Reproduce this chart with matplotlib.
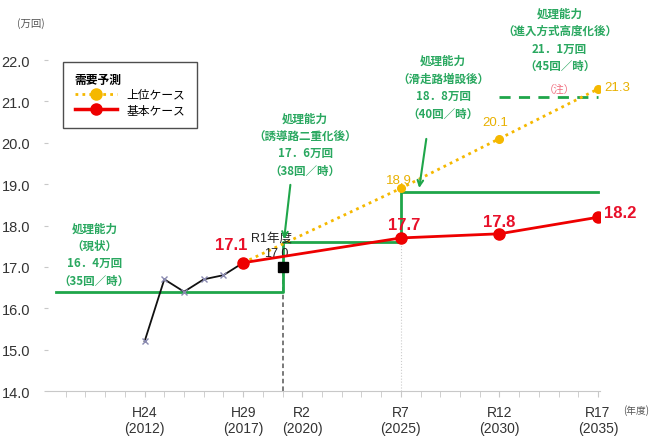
import matplotlib
matplotlib.use("Agg")
import matplotlib.pyplot as plt
from matplotlib.lines import Line2D

plt.rcParams['font.family'] = ['Liberation Sans', 'Noto Sans CJK JP']

# actual results (black)
actual_years = [2012, 2013, 2014, 2015, 2016, 2017]
actual_vals = [15.2, 16.7, 16.4, 16.7, 16.8, 17.1]

# forecasts
base_years = [2017, 2025, 2030, 2035]
base_vals = [17.1, 17.7, 17.8, 18.2]
upper_years = [2017, 2025, 2030, 2035]
upper_vals = [17.1, 18.9, 20.1, 21.3]

# R1 result
r1_year = 2019
r1_val = 17.0

# capacity steps
cap_x = [2007.5, 2019, 2019, 2025, 2025, 2035]
cap_y = [16.4, 16.4, 17.6, 17.6, 18.8, 18.8]
cap_future_x = [2030, 2035]
cap_future_y = [21.1, 21.1]

tick_years = [2012, 2017, 2020, 2025, 2030, 2035]
tick_labels = ["H24\n(2012)", "H29\n(2017)", "R2\n(2020)", "R7\n(2025)", "R12\n(2030)", "R17\n(2035)"]

GREEN = "#1fa64a"
TGREEN = "#2aa860"
ORANGE = "#f5b800"
TORANGE = "#e8b000"
RED = "#ee0000"
TRED = "#e8102a"

fig = plt.figure(figsize=(6.54, 4.39), dpi=100)
ax = fig.add_axes([0.0734, 0.107, 0.844, 0.754])
ax.set_xlim(2007.1, 2035.1)
ax.set_ylim(14.0, 22.0)

# guide lines
ax.plot([r1_year, r1_year], [14.0, r1_val], color="#555555", ls=(0, (3, 2)), lw=1.1, zorder=1)
ax.plot([2025, 2025], [14.0, 17.7], color="#cccccc", ls=":", lw=0.8, zorder=1)

# capacity
ax.plot(cap_x, cap_y, color=GREEN, lw=2, zorder=2)
ax.plot(cap_future_x, cap_future_y, color=GREEN, lw=2, ls=(0, (4, 3)), zorder=2)

# series
ax.plot(actual_years, actual_vals, color="#111111", lw=1.3, marker="x", ms=4,
        mec="#8a8ab0", mew=1, zorder=4)
ax.plot(upper_years, upper_vals, color=ORANGE, lw=2, ls=(0, (1, 1.5)), zorder=3)
ax.plot(upper_years[1:], upper_vals[1:], ls="none", marker="o", ms=5.5, color=ORANGE, zorder=4)
ax.plot(base_years, base_vals, color=RED, lw=2, marker="o", ms=8, zorder=5)
ax.plot([r1_year], [r1_val], ls="none", marker="s", ms=7, color="black", zorder=6)

# arrows
ax.annotate("", xy=(2019.06, 17.6), xytext=(2019.41, 19.05),
            arrowprops=dict(arrowstyle="->", color=GREEN, lw=1.5), zorder=6)
ax.annotate("", xy=(2025.91, 18.84), xytext=(2026.31, 20.16),
            arrowprops=dict(arrowstyle="->", color=GREEN, lw=1.5), zorder=6)

# value labels
kw_red = dict(color=TRED, fontsize=12, fontweight="bold", ha="center", va="center")
ax.text(2016.4, 17.55, "17.1", **kw_red)
ax.text(2025.15, 18.02, "17.7", **kw_red)
ax.text(2030.0, 18.1, "17.8", **kw_red)
ax.text(2035.3, 18.32, "18.2", color=TRED, fontsize=12, fontweight="bold", ha="left", va="center")

kw_or = dict(color=TORANGE, fontsize=9.5, ha="center", va="center")
ax.text(2024.9, 19.1, "18.9", **kw_or)
ax.text(2029.8, 20.5, "20.1", **kw_or)
ax.text(2035.3, 21.35, "21.3", color=TORANGE, fontsize=9.5, ha="left", va="center", clip_on=False)

ax.text(2018.45, 17.72, "R1年度", color="#222222", fontsize=9, ha="center", va="center")
ax.text(2018.7, 17.33, "17.0", color="#222222", fontsize=9, ha="center", va="center")

# capacity notes
kw_g = dict(color=TGREEN, fontsize=8.3, fontweight="bold", ha="center", va="center",
            linespacing=1.45, family=['Noto Sans CJK JP'], clip_on=False)
ax.text(2009.45, 17.31, "処理能力\n（現状）\n16．4万回\n（35回／時）", **kw_g)
ax.text(2020.15, 19.97, "処理能力\n（誘導路二重化後）\n17．6万回\n（38回／時）", **kw_g)
ax.text(2027.15, 21.35, "処理能力\n（滑走路増設後）\n18．8万回\n（40回／時）", **kw_g)
ax.text(2033.05, 22.5, "処理能力\n（進入方式高度化後）\n21．1万回\n（45回／時）", **kw_g)
ax.text(2033.05, 21.3, "（注）", color="#f07080", fontsize=7.5, ha="center", va="center",
        family=['Noto Sans CJK JP'])

# axes style
for s in ["top", "right", "left"]:
    ax.spines[s].set_visible(False)
ax.spines["bottom"].set_color("#c8c8c8")
ax.set_yticks([14 + i for i in range(9)])
ax.set_yticklabels([f"{14 + i:.1f}" for i in range(9)], fontsize=10.5, color="#333333")
ax.tick_params(axis="y", length=3, color="#c8c8c8", pad=10)
ax.set_xticks(tick_years)
ax.set_xticklabels(tick_labels, fontsize=10, color="#333333")
ax.set_xticks(list(range(2008, 2036)), minor=True)
ax.tick_params(axis="x", which="both", length=4, color="#c8c8c8", pad=6)

fig.text(31 / 654, 1 - 24 / 439, "(万回)", fontsize=7.5, color="#555555", ha="center", va="center",
         family=['Noto Sans CJK JP'])
fig.text(636 / 654, 1 - 411 / 439, "(年度)", fontsize=7, color="#555555", ha="center", va="center",
         family=['Noto Sans CJK JP'])

# legend
handles = [
    Line2D([], [], color=ORANGE, lw=2, ls=(0, (1, 1.5)), marker="o", ms=8),
    Line2D([], [], color=RED, lw=2.5, marker="o", ms=8),
]
leg = ax.legend(handles, ["上位ケース", "基本ケース"], title="需要予測", loc="upper left",
                bbox_to_anchor=(0.027, 0.995), borderaxespad=0, fontsize=8.5, title_fontsize=8.5,
                handlelength=3.6, frameon=True, fancybox=False, borderpad=1.0,
                labelspacing=0.3, alignment="left")
leg.get_frame().set_edgecolor("#222222")
leg.get_frame().set_linewidth(1.0)
leg.get_title().set_fontweight("bold")

fig.savefig("out.png", dpi=100)
